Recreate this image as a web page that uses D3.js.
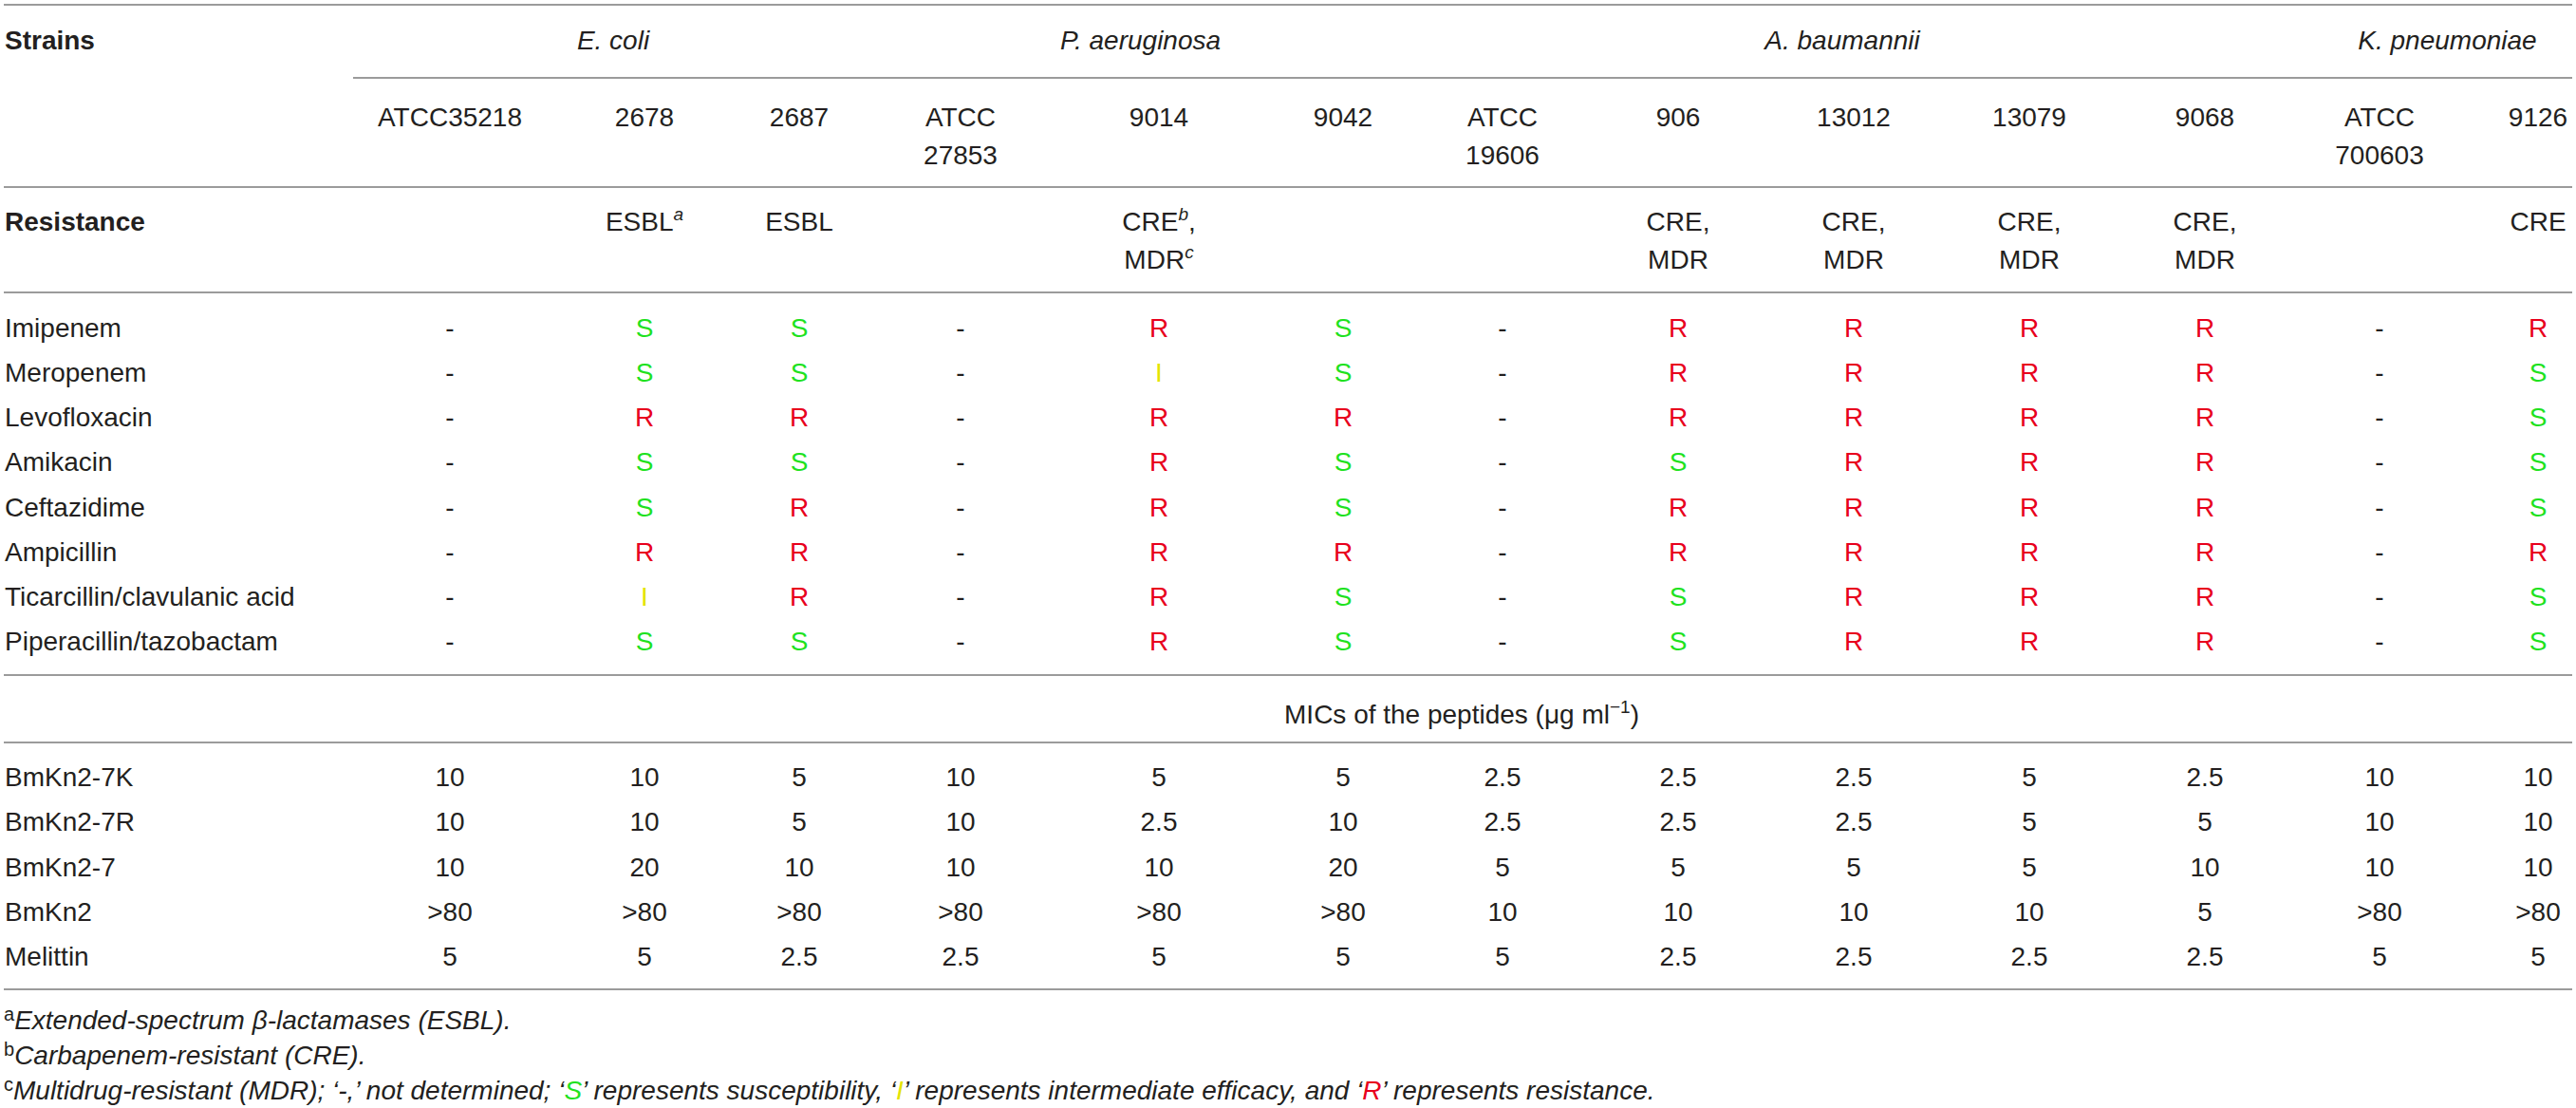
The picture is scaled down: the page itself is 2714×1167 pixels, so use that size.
<!DOCTYPE html>
<html>
<head>
<meta charset="utf-8">
<script src="https://cdn.jsdelivr.net/npm/d3@7"></script>
<style>
  body { margin: 0; background: #fff; }
  svg text { font-family: "Liberation Sans", Arial, sans-serif; font-size: 28px; fill: #231f20; }
</style>
</head>
<body>
<div id="table"></div>
<script>
// strains (columns) and the species they belong to
const strains = ["ATCC35218", "2678", "2687", "ATCC 27853", "9014", "9042", "ATCC 19606",
  "906", "13012", "13079", "9068", "ATCC 700603", "9126"];
const species = ["E. coli", "P. aeruginosa", "A. baumannii", "K. pneumoniae"];
const speciesOf = [0, 0, 0, 1, 1, 1, 2, 2, 2, 2, 2, 3, 3];

// "^x" marks a superscript footnote letter
const resistance = [[], ["ESBL^a"], ["ESBL"], [], ["CRE^b,", "MDR^c"], [], [],
  ["CRE,", "MDR"], ["CRE,", "MDR"], ["CRE,", "MDR"], ["CRE,", "MDR"], [], ["CRE"]];

const drugs = ["Imipenem", "Meropenem", "Levofloxacin", "Amikacin", "Ceftazidime",
  "Ampicillin", "Ticarcillin/clavulanic acid", "Piperacillin/tazobactam"];
const susceptibility = [
  ["-", "S", "S", "-", "R", "S", "-", "R", "R", "R", "R", "-", "R"],
  ["-", "S", "S", "-", "I", "S", "-", "R", "R", "R", "R", "-", "S"],
  ["-", "R", "R", "-", "R", "R", "-", "R", "R", "R", "R", "-", "S"],
  ["-", "S", "S", "-", "R", "S", "-", "S", "R", "R", "R", "-", "S"],
  ["-", "S", "R", "-", "R", "S", "-", "R", "R", "R", "R", "-", "S"],
  ["-", "R", "R", "-", "R", "R", "-", "R", "R", "R", "R", "-", "R"],
  ["-", "I", "R", "-", "R", "S", "-", "S", "R", "R", "R", "-", "S"],
  ["-", "S", "S", "-", "R", "S", "-", "S", "R", "R", "R", "-", "S"]
];

const peptides = ["BmKn2-7K", "BmKn2-7R", "BmKn2-7", "BmKn2", "Melittin"];
const mics = [
  ["10", "10", "5", "10", "5", "5", "2.5", "2.5", "2.5", "5", "2.5", "10", "10"],
  ["10", "10", "5", "10", "2.5", "10", "2.5", "2.5", "2.5", "5", "5", "10", "10"],
  ["10", "20", "10", "10", "10", "20", "5", "5", "5", "5", "10", "10", "10"],
  [">80", ">80", ">80", ">80", ">80", ">80", "10", "10", "10", "10", "5", ">80", ">80"],
  ["5", "5", "2.5", "2.5", "5", "5", "5", "2.5", "2.5", "2.5", "2.5", "5", "5"]
];

const footnotes = [
  ["a", [["Extended-spectrum β-lactamases (ESBL).", null]]],
  ["b", [["Carbapenem-resistant (CRE).", null]]],
  ["c", [["Multidrug-resistant (MDR); ‘-,’ not determined; ‘", null], ["S", "S"],
    ["’ represents susceptibility, ‘", null], ["I", "I"],
    ["’ represents intermediate efficacy, and ‘", null], ["R", "R"],
    ["’ represents resistance.", null]]]
];

// layout
const width = 2714, height = 1167;
const colCentres = [474, 679, 842, 1012, 1221, 1415, 1583, 1768, 1953, 2138, 2323, 2507, 2674];
const colour = { S: "#1fe21f", R: "#e8001c", I: "#e4e400", "-": "#231f20" };
const lineColour = "#9b9b9b";
const capShift = 10; // centre of capitals -> baseline

const x = d3.scaleOrdinal().domain(strains).range(colCentres);
const yDrug = d3.scalePoint().domain(drugs).range([345, 675]);
const yPep = d3.scalePoint().domain(peptides).range([818, 1007]);

const svg = d3.select("#table")
  .append("svg")
  .attr("width", width)
  .attr("height", height);

// horizontal rules
const rules = [[5, 4], [82, 372], [197, 4], [308, 4], [711, 4], [782, 4], [1042, 4]];
svg.append("g")
  .selectAll("line")
  .data(rules)
  .join("line")
    .attr("x1", d => d[1])
    .attr("x2", 2710)
    .attr("y1", d => d[0])
    .attr("y2", d => d[0])
    .attr("stroke", lineColour)
    .attr("stroke-width", 2);

// text with ^x superscripts
function rich(text, str, italicSup) {
  const parts = str.split(/\^(\w)/);
  let up = false;
  parts.forEach((p, i) => {
    if (p === "") return;
    const sup = i % 2 === 1;
    const t = text.append("tspan").text(p);
    if (sup) {
      t.attr("font-size", 19).attr("dy", -11);
      if (italicSup) t.attr("font-style", "italic");
      up = true;
    } else if (up) {
      t.attr("dy", 11);
      up = false;
    }
  });
}

// row labels
svg.append("text").attr("x", 5).attr("y", 42 + capShift)
  .attr("font-weight", "bold").text("Strains");
svg.append("text").attr("x", 5).attr("y", 233 + capShift)
  .attr("font-weight", "bold").text("Resistance");

// species headers
svg.append("g")
  .selectAll("text")
  .data(species)
  .join("text")
    .attr("font-style", "italic")
    .attr("text-anchor", "middle")
    .attr("x", (d, i) => {
      const cols = strains.filter((s, j) => speciesOf[j] === i);
      return (x(cols[0]) + x(cols[cols.length - 1])) / 2 - 12;
    })
    .attr("y", 42 + capShift)
    .text(d => d);

// strain ids
svg.append("g")
  .selectAll("text")
  .data(strains)
  .join("text")
    .attr("text-anchor", "middle")
    .attr("x", d => x(d))
    .attr("y", 123 + capShift)
    .each(function(d) {
      const lines = d.split(" ");
      d3.select(this).selectAll("tspan")
        .data(lines)
        .join("tspan")
          .attr("x", x(d))
          .attr("dy", (l, i) => i ? 40 : 0)
          .text(l => l);
    });

// resistance phenotype
svg.append("g")
  .selectAll("g")
  .data(strains)
  .join("g")
  .each(function(d, i) {
    resistance[i].forEach((line, k) => {
      const t = d3.select(this).append("text")
        .attr("text-anchor", "middle")
        .attr("x", x(d))
        .attr("y", 233 + k * 40 + capShift);
      rich(t, line, true);
    });
  });

// drug rows
svg.append("g")
  .selectAll("text")
  .data(drugs)
  .join("text")
    .attr("x", 5)
    .attr("y", d => yDrug(d) + capShift)
    .text(d => d);

svg.append("g")
  .selectAll("g")
  .data(drugs)
  .join("g")
  .selectAll("text")
  .data((d, i) => susceptibility[i].map((v, j) => ({ drug: d, strain: strains[j], v })))
  .join("text")
    .attr("text-anchor", "middle")
    .attr("x", d => x(d.strain))
    .attr("y", d => yDrug(d.drug) + capShift)
    .style("fill", d => colour[d.v])
    .text(d => d.v);

// MIC header
const mic = svg.append("text")
  .attr("text-anchor", "middle")
  .attr("x", 1540)
  .attr("y", 752 + capShift);
mic.append("tspan").text("MICs of the peptides (μg ml");
mic.append("tspan").attr("font-size", 19).attr("dy", -11).text("−1");
mic.append("tspan").attr("dy", 11).text(")");

// peptide rows
svg.append("g")
  .selectAll("text")
  .data(peptides)
  .join("text")
    .attr("x", 5)
    .attr("y", d => yPep(d) + capShift)
    .text(d => d);

svg.append("g")
  .selectAll("g")
  .data(peptides)
  .join("g")
  .selectAll("text")
  .data((d, i) => mics[i].map((v, j) => ({ pep: d, strain: strains[j], v })))
  .join("text")
    .attr("text-anchor", "middle")
    .attr("x", d => x(d.strain))
    .attr("y", d => yPep(d.pep) + capShift)
    .text(d => d.v);

// footnotes
const yNote = d3.scalePoint().domain(footnotes.map(f => f[0])).range([1074, 1148]);
footnotes.forEach(([key, segs]) => {
  const t = svg.append("text").attr("x", 4).attr("y", yNote(key) + capShift);
  t.append("tspan").attr("font-size", 20).attr("dy", -9).text(key);
  segs.forEach(([s, c], i) => {
    const sp = t.append("tspan").attr("font-style", "italic").text(s);
    if (i === 0) sp.attr("dy", 9);
    if (c) sp.style("fill", colour[c]);
  });
});
</script>
</body>
</html>
